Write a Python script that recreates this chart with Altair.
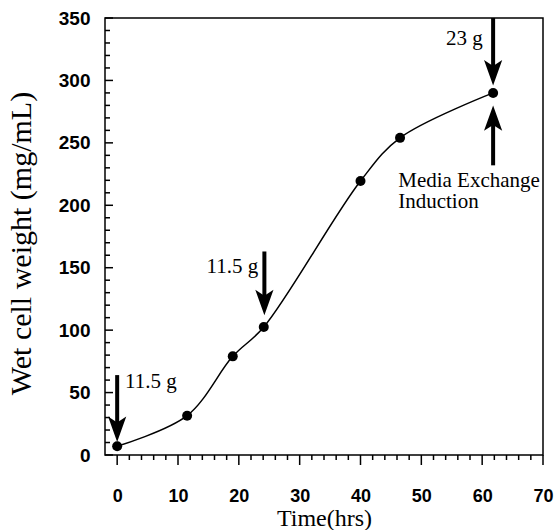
import altair as alt
import pandas as pd

# ---- data ----
hours = [0, 11.5, 19, 24.1, 40, 46.5, 61.8]
weight = [7, 31.5, 79, 102.5, 219.5, 254, 290]

arrow_x = [0, 24.2, 61.8, 61.8]
arrow_start = [64, 163, 350, 232]
arrow_shaft_end = [24, 127, 311, 266]
arrow_tip = [10.5, 112, 296, 280]
arrow_dir = ["down", "down", "down", "up"]

note_text = ["11.5 g", "11.5 g", "23 g", "Media Exchange", "Induction"]
note_x = [1.3, 23.2, 60.1, 46.2, 46.2]
note_y = [53.7, 146, 328, 214.6, 197.8]
note_align = ["left", "right", "right", "left", "left"]

x_major = list(range(0, 71, 10))
x_minor = [v for v in range(0, 71, 2) if v % 10]
y_major = list(range(0, 351, 50))
y_minor = [v for v in range(0, 351, 10) if v % 50]

X_MIN, X_MAX = -2, 70
Y_MIN, Y_MAX = 0, 350

# ---- tables ----
df = pd.DataFrame({"hours": hours, "weight": weight})
arrows = pd.DataFrame({"x": arrow_x, "start": arrow_start, "shaft_end": arrow_shaft_end,
                       "tip": arrow_tip, "dir": arrow_dir})
notes = pd.DataFrame({"text": note_text, "x": note_x, "y": note_y, "align": note_align})
xmaj_df = pd.DataFrame({"v": x_major})
xmin_df = pd.DataFrame({"v": x_minor})
ymaj_df = pd.DataFrame({"v": y_major})
ymin_df = pd.DataFrame({"v": y_minor})

W, H = 438, 437
xs = alt.Scale(domain=[X_MIN, X_MAX], nice=False, zero=False)
ys = alt.Scale(domain=[Y_MIN, Y_MAX], nice=False, zero=False)

SANS = "Liberation Sans"
SERIF = "Liberation Serif"

# identical axis definitions on every layer so the shared axes merge cleanly
x_axis = alt.Axis(
    values=x_major, orient="bottom", title="Time(hrs)", ticks=False, tickSize=0,
    labelPadding=32, labelFont=SANS, labelFontWeight="bold", labelFontSize=18,
    titleFont=SERIF, titleFontSize=24, titleFontWeight="normal", titlePadding=1)
y_axis = alt.Axis(
    values=y_major, orient="left", title="Wet cell weight (mg/mL)", ticks=False, tickSize=0,
    labelPadding=15, labelFont=SANS, labelFontWeight="bold", labelFontSize=19,
    titleFont=SERIF, titleFontSize=30, titleFontWeight="normal", titlePadding=22,
    titleY=225)


def X(field):
    return alt.X(field, type="quantitative", scale=xs, axis=x_axis)


def Y(field):
    return alt.Y(field, type="quantitative", scale=ys, axis=y_axis)


line = alt.Chart(df).mark_line(color="black", strokeWidth=1.5, interpolate="catmull-rom").encode(
    x=X("hours"), y=Y("weight"))

# axis tick marks (major and minor) as tick marks anchored on the frame edges
xmaj_ticks = alt.Chart(xmaj_df).mark_tick(
    orient="vertical", color="black", opacity=1, thickness=1.5, size=10, yOffset=5).encode(
    x=X("v"), y=alt.YDatum(Y_MIN, type="quantitative", scale=ys, axis=y_axis))
xmin_ticks = alt.Chart(xmin_df).mark_tick(
    orient="vertical", color="black", opacity=1, thickness=1.5, size=5, yOffset=2.5).encode(
    x=X("v"), y=alt.YDatum(Y_MIN, type="quantitative", scale=ys, axis=y_axis))
ymaj_ticks = alt.Chart(ymaj_df).mark_tick(
    orient="horizontal", color="black", opacity=1, thickness=1.5, size=8, xOffset=4).encode(
    y=Y("v"), x=alt.XDatum(X_MIN, type="quantitative", scale=xs, axis=x_axis))
ymin_ticks = alt.Chart(ymin_df).mark_tick(
    orient="horizontal", color="black", opacity=1, thickness=1.5, size=5, xOffset=2.5).encode(
    y=Y("v"), x=alt.XDatum(X_MIN, type="quantitative", scale=xs, axis=x_axis))

points = alt.Chart(df).mark_point(filled=True, color="black", opacity=1, size=100, shape="circle").encode(
    x=X("hours"), y=Y("weight"))

shafts = alt.Chart(arrows).mark_rule(color="black", strokeWidth=4).encode(
    x=X("x"), y=Y("start"), y2="shaft_end:Q")

head_down = alt.Chart(arrows).transform_filter(alt.datum.dir == "down").mark_point(
    filled=True, color="black", opacity=1, size=676, strokeWidth=0,
    shape="M0,0 L-0.7,-1.95 L0,-1.5 L0.7,-1.95 Z").encode(x=X("x"), y=Y("tip"))

head_up = alt.Chart(arrows).transform_filter(alt.datum.dir == "up").mark_point(
    filled=True, color="black", opacity=1, size=676, strokeWidth=0,
    shape="M0,0 L-0.7,1.95 L0,1.5 L0.7,1.95 Z").encode(x=X("x"), y=Y("tip"))

text_left = alt.Chart(notes).transform_filter(alt.datum.align == "left").mark_text(
    align="left", baseline="alphabetic", font=SERIF, fontSize=21, color="black").encode(
    x=X("x"), y=Y("y"), text="text:N")

text_right = alt.Chart(notes).transform_filter(alt.datum.align == "right").mark_text(
    align="right", baseline="alphabetic", font=SERIF, fontSize=21, color="black").encode(
    x=X("x"), y=Y("y"), text="text:N")

chart = alt.layer(
    line, xmaj_ticks, xmin_ticks, ymaj_ticks, ymin_ticks,
    points, shafts, head_down, head_up, text_left, text_right,
).properties(
    width=W, height=H,
    autosize=alt.AutoSizeParams(type="none"),
    padding={"left": 105, "top": 18, "right": 15, "bottom": 75},
    background="white",
).configure_view(
    stroke="black", strokeWidth=1.5
).configure_axis(
    grid=False, domain=False,
    labelColor="black", titleColor="black", labelFlush=False, labelOverlap=False, labelBound=False,
)

chart.save("out.html", embed_options={"renderer": "svg", "actions": False})
